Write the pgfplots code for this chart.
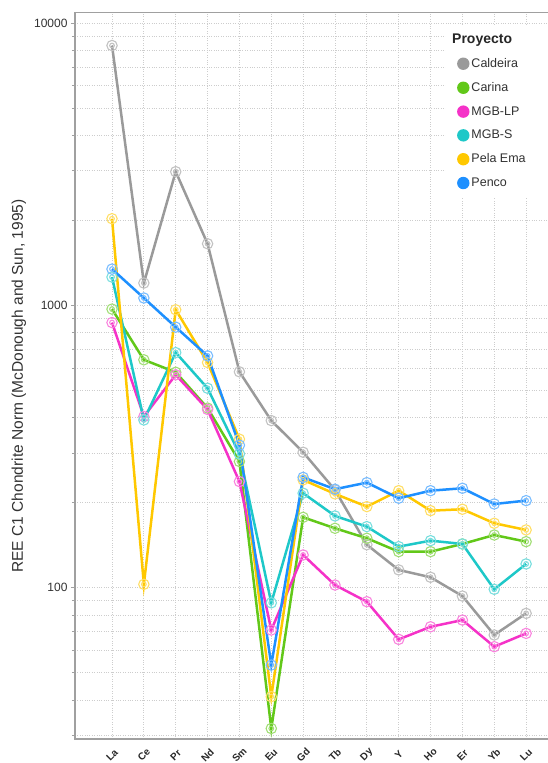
\documentclass[border=0pt]{standalone}
\usepackage{fontspec}
\setmainfont{Liberation Sans}
\usepackage{pgfplots}
\pgfplotsset{compat=1.18}

\definecolor{caldeira}{RGB}{154,154,154}
\definecolor{carina}{RGB}{98,200,25}
\definecolor{mgblp}{RGB}{245,50,200}
\definecolor{mgbs}{RGB}{30,200,200}
\definecolor{pelaema}{RGB}{255,200,0}
\definecolor{penco}{RGB}{30,144,255}
\definecolor{gridgray}{RGB}{205,205,205}
\definecolor{axisgray}{RGB}{160,160,160}
\definecolor{txt}{RGB}{50,50,50}

% double ring marker
\pgfdeclareplotmark{ring}{%
  \pgfpathcircle{\pgfpointorigin}{\pgfplotmarksize}%
  \pgfpathcircle{\pgfpointorigin}{0.45\pgfplotmarksize}%
  \pgfusepathqstroke}

\pgfplotsset{
  ree/.style={line width=2.5bp, mark=ring, mark size=5.2bp,
    mark options={line width=1.1bp, draw=#1!60!white, solid}, color=#1, forget plot},
}

\begin{document}
\begin{tikzpicture}
\useasboundingbox (0,0) rectangle (548bp,763bp);
\begin{axis}[
  at={(75bp,24bp)}, anchor=south west,
  scale only axis, width=475bp, height=726.3bp,
  ymode=log, ymin=29.1, ymax=10904,
  xmin=-1.162, xmax=13.75,
  xtick={0,...,13},
  xticklabels={La,Ce,Pr,Nd,Sm,Eu,Gd,Tb,Dy,Y,Ho,Er,Yb,Lu},
  x tick style={draw=none},
  xticklabel style={rotate=45, anchor=center, xshift=-8.4bp, yshift=-8.4bp,
    font=\fontsize{10bp}{11bp}\selectfont\bfseries, text=txt!80!black},
  ytick={100,1000,10000},
  yticklabels={100,1000,10000},
  minor ytick={30,40,50,60,70,80,90,200,300,400,500,600,700,800,900,2000,3000,4000,5000,6000,7000,8000,9000},
  yticklabel style={font=\fontsize{12bp}{14bp}\selectfont, text=txt},
  tick align=outside, tick pos=left,
  major tick length=4bp, minor tick length=3bp,
  y tick style={draw=axisgray, line width=0.8bp},
  grid=both,
  major grid style={draw=gridgray, dotted, line width=0.9bp},
  minor grid style={draw=gridgray, dotted, line width=0.9bp},
  axis line style={draw=axisgray, line width=1.2bp},
  ylabel={REE C1 Chondrite Norm (McDonough and Sun, 1995)},
  every axis y label/.style={at={(rel axis cs:-0.118,0.486)}, rotate=90, anchor=center,
    font=\fontsize{15.5bp}{17bp}\selectfont, text=txt},
  clip=false,
  legend style={at={(rel axis cs:0.804,0.94)}, anchor=north west, draw=none, fill=none,
    font=\fontsize{12.5bp}{14bp}\selectfont, text=txt, row sep=9.5bp,
    cells={anchor=west}, inner sep=0pt},
  legend image code/.code={\path[draw=none,#1] (5bp,0bp) circle (6.2bp);},
]
% white panel behind the legend
\fill[white] (rel axis cs:0.78,0.745) rectangle (rel axis cs:1,0.982);

\addplot[ree=caldeira] coordinates {(0,8340) (1,1201) (2,2980) (3,1655) (4,582) (5,391) (6,302) (7,222) (8,142) (9,115.6) (10,108.9) (11,93.4) (12,68) (13,81.1)};
\addplot[ree=carina] coordinates {(0,971) (1,642) (2,580) (3,433) (4,280) (5,31.7) (6,177.6) (7,162.4) (8,149.7) (9,134.2) (10,134.2) (11,142.9) (12,153.7) (13,145.6)};
\addplot[ree=mgblp] coordinates {(0,870) (1,404) (2,568) (3,428) (4,237.7) (5,70.8) (6,130.6) (7,102.2) (8,89.2) (9,65.6) (10,72.7) (11,76.8) (12,61.8) (13,68.9)};
\addplot[ree=mgbs] coordinates {(0,1261) (1,393) (2,681) (3,509) (4,298) (5,88.4) (6,216.2) (7,179.6) (8,164.6) (9,139.8) (10,146.8) (11,142.9) (12,98.7) (13,121.4)};
\addplot[ree=pelaema] coordinates {(0,2030) (1,102.8) (2,966) (3,628) (4,336) (5,41.1) (6,241) (7,215) (8,193.8) (9,220.7) (10,187.5) (11,189.7) (12,169.2) (13,160.2)};
\addplot[ree=penco] coordinates {(0,1346) (1,1063) (2,838) (3,663) (4,320) (5,53.2) (6,246) (7,223.4) (8,235.7) (9,207.5) (10,220.7) (11,225.1) (12,198) (13,203.5)};

\addlegendimage{fill=caldeira}\addlegendentry{Caldeira}
\addlegendimage{fill=carina}\addlegendentry{Carina}
\addlegendimage{fill=mgblp}\addlegendentry{MGB-LP}
\addlegendimage{fill=mgbs}\addlegendentry{MGB-S}
\addlegendimage{fill=pelaema}\addlegendentry{Pela Ema}
\addlegendimage{fill=penco}\addlegendentry{Penco}

\node[anchor=west, font=\fontsize{14bp}{16bp}\selectfont\bfseries, text=black!85, inner sep=0pt]
  at (rel axis cs:0.7937,0.9624) {Proyecto};
\end{axis}
\end{tikzpicture}
\end{document}
